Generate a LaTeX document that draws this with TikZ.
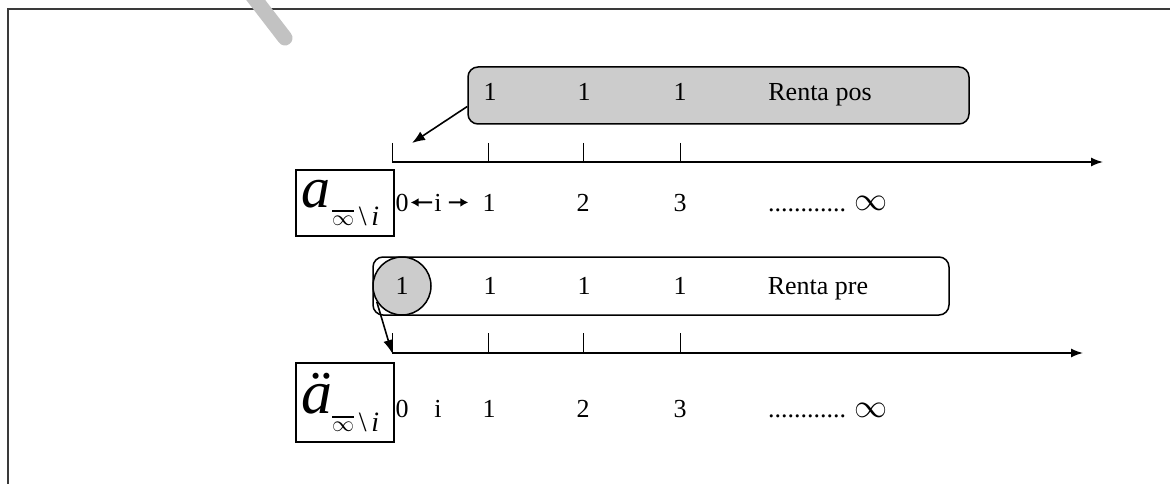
\documentclass[tikz,border=0pt]{standalone}
\usepackage{fontspec}
\usepackage{graphicx}
\setmainfont{Liberation Serif}
\usetikzlibrary{arrows.meta,calc}
\definecolor{framecol}{HTML}{3A3A3A}
\definecolor{boxgray}{HTML}{CCCCCC}
\definecolor{pencil}{HTML}{C2C2C2}
% wide infinity signs at fixed widths; the subscript one carries a bar
\newcommand{\wideinf}{\resizebox{33pt}{!}{$\infty$}}
\newcommand{\subinf}{\vbox{\hrule height 1.2pt\kern 4pt\hbox{\resizebox{22pt}{!}{$\infty$}}}}
\begin{document}
\begin{tikzpicture}[x=1pt,y=-1pt,
  font=\fontsize{26}{30}\selectfont,
  lbl/.style={anchor=base, inner sep=0pt},
  lblw/.style={anchor=base west, inner sep=0pt},
  axisline/.style={line width=1.5pt,-{Latex[length=12pt,width=9pt]}},
  tickline/.style={line width=0.8pt},
  pointer/.style={line width=1.6pt,-{Latex[length=13pt,width=10pt]}},
  smallarrow/.style={line width=2pt,-{Latex[length=8pt,width=9pt]}},
  band/.style={draw, line width=1.5pt, rounded corners=10pt, inner sep=0pt},
  symbox/.style={draw, line width=2pt, inner sep=0pt, minimum width=98pt},
  bigsym/.style={anchor=base west, inner sep=0pt, font=\fontsize{58}{60}\selectfont\itshape},
  subsym/.style={anchor=base west, inner sep=0pt, font=\fontsize{28}{30}\selectfont}
]
\useasboundingbox (0,0) rectangle (1170,484);

% page frame and pencil stroke
\draw[framecol, line width=2pt] (8,484) -- (8,9.5) -- (1172,9.5);
\draw[pencil, line width=15pt, line cap=round] (248,-10) -- (285,38);

% ---------- postpayable annuity ----------
\node[band, fill=boxgray, minimum width=501pt, minimum height=57pt] (pos) at (718.5,95.5) {};
\node[lbl] (p1) at (490,101) {1};
\node[lbl] (p2) at (584,101) {1};
\node[lbl] (p3) at (680,101) {1};
\node[lbl] (ptxt) at (820,101) {Renta pos};

\coordinate (o1) at (392,162);
\coordinate (e1) at (1103,162);
\draw[axisline] (o1) -- (e1);
\foreach \x in {392,488,583,680} \draw[tickline] (\x,143) -- (\x,162);
\coordinate (t1) at (412,143);
\draw[pointer] ($(pos.west)+(0,11)$) -- (t1);

\node[symbox, minimum height=66pt] (abox) at (345,203) {};
\node[bigsym] (asym) at (301,207) {a};
\node[subsym] (asub) at (332,225) {\subinf\,\textbackslash\,\textit{i}};

\node[lbl] (z1) at (402,211) {0};
\node[lbl] (i1) at (438,211) {i};
\node[lbl] (n11) at (489,211) {1};
\node[lbl] (n12) at (583,211) {2};
\node[lbl] (n13) at (680,211) {3};
\node[lblw] (d1) at (768,211) {............};
\node[lbl] (inf1) at (871,211) {\wideinf};
\draw[smallarrow, shorten <=2pt, shorten >=2pt] (i1.west) -- (z1.east);
\draw[smallarrow, shorten <=7pt, shorten >=14pt] (i1.east) -- (n11.west);

% ---------- prepayable annuity ----------
\node[band, fill=white, minimum width=576pt, minimum height=58pt] (pre) at (661,286) {};
\node[circle, draw, fill=boxgray, line width=1.5pt, minimum size=58pt, inner sep=0pt] (c) at (402,286) {1};
\node[lbl] (q1) at (490,294) {1};
\node[lbl] (q2) at (584,294) {1};
\node[lbl] (q3) at (680,294) {1};
\node[lbl] (qtxt) at (818,294) {Renta pre};

\coordinate (o2) at (392,353);
\coordinate (e2) at (1083,353);
\draw[axisline] (o2) -- (e2);
\foreach \x in {392,488,583,680} \draw[tickline] (\x,333) -- (\x,353);
\draw[pointer] (c.212) -- (o2);

\node[symbox, minimum height=79pt] (adbox) at (345,402.5) {};
\node[bigsym, font=\fontsize{62}{64}\selectfont\itshape] (adsym) at (301,413) {ä};
\node[subsym] (adsub) at (332,431) {\subinf\,\textbackslash\,\textit{i}};

\node[lbl] (z2) at (402,417) {0};
\node[lbl] (i2) at (438,417) {i};
\node[lbl] (n21) at (489,417) {1};
\node[lbl] (n22) at (583,417) {2};
\node[lbl] (n23) at (680,417) {3};
\node[lblw] (d2) at (768,417) {............};
\node[lbl] (inf2) at (871,417) {\wideinf};
\end{tikzpicture}
\end{document}
